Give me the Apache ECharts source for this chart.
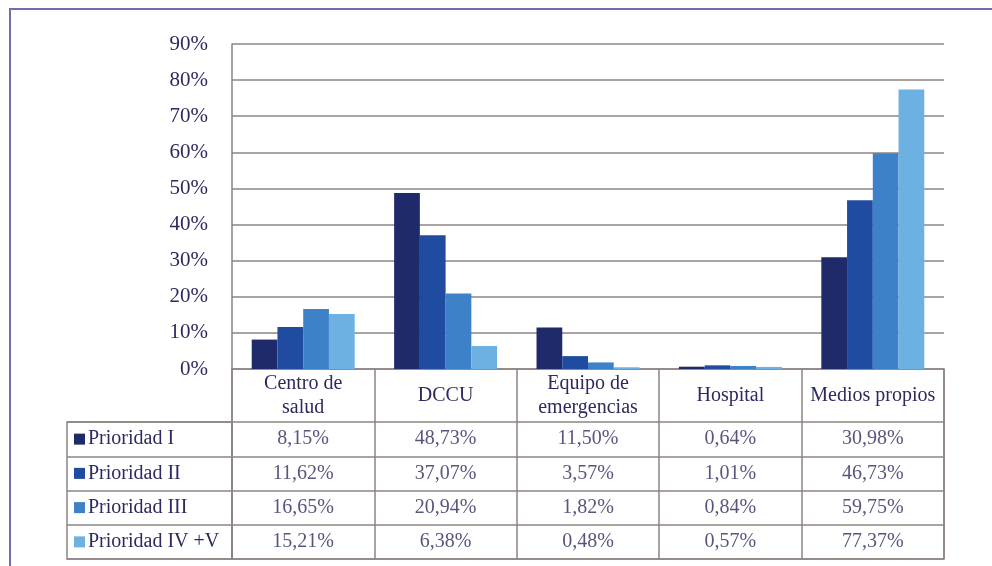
<!DOCTYPE html>
<html>
<head>
<meta charset="utf-8">
<script src="https://cdn.jsdelivr.net/npm/echarts@6/dist/echarts.min.js"></script>
<style>
html,body{margin:0;padding:0;background:#ffffff;}
#c{width:992px;height:566px;}
</style>
</head>
<body>
<div id="c"></div>
<script>
const categories = ['Centro de\nsalud', 'DCCU', 'Equipo de\nemergencias', 'Hospital', 'Medios propios'];
const seriesNames = ['Prioridad I', 'Prioridad II', 'Prioridad III', 'Prioridad IV +V'];
const prioridadI = [8.15, 48.73, 11.50, 0.64, 30.98];
const prioridadII = [11.62, 37.07, 3.57, 1.01, 46.73];
const prioridadIII = [16.65, 20.94, 1.82, 0.84, 59.75];
const prioridadIV = [15.21, 6.38, 0.48, 0.57, 77.37];
const yTicks = [0, 10, 20, 30, 40, 50, 60, 70, 80, 90];

const allSeries = [prioridadI, prioridadII, prioridadIII, prioridadIV];
const colors = ['#1f2a6b', '#1f4ba0', '#3d82c8', '#6db0e2'];
const textColor = '#2d2a5e';
const lineColor = '#8c8583';
const font = 'Liberation Serif';
const fs = 20;

const fmt = v => v.toFixed(2).replace('.', ',') + '%';

const cellData = [];
allSeries.forEach((arr, s) => arr.forEach((v, c) => cellData.push([c, s, v])));

const rich = {};
colors.forEach((col, i) => {
  rich['s' + i] = { width: 11, height: 11, backgroundColor: col };
});
rich.t = { color: textColor, fontFamily: font, fontSize: fs, padding: [0, 0, 0, 3] };

const chart = echarts.init(document.getElementById('c'), null, { renderer: 'canvas' });
chart.setOption({
  backgroundColor: '#ffffff',
  animation: false,
  graphic: [{
    type: 'rect',
    shape: { x: 10, y: 9, width: 1000, height: 600 },
    style: { fill: 'none', stroke: '#6f6fa9', lineWidth: 2 },
    silent: true
  }],
  grid: [
    { left: 232, right: 48, top: 44, bottom: 197 },
    { left: 232, right: 48, top: 369, bottom: 7, show: true, borderColor: lineColor, borderWidth: 1.5, backgroundColor: 'transparent' },
    { left: 232, right: 48, top: 422, bottom: 7 },
    { left: 67, width: 165, top: 422, bottom: 7, show: true, borderColor: lineColor, borderWidth: 1.5, backgroundColor: 'transparent' }
  ],
  xAxis: [
    {
      type: 'category', gridIndex: 0, data: categories,
      axisLine: { show: false }, axisTick: { show: false },
      axisLabel: { interval: 0, margin: 27, verticalAlign: 'middle', lineHeight: 24, color: textColor, fontFamily: font, fontSize: fs },
      splitLine: { show: false }
    },
    {
      type: 'category', gridIndex: 1, data: categories,
      axisLine: { show: false }, axisTick: { show: false }, axisLabel: { show: false },
      splitLine: { show: true, interval: 0, lineStyle: { color: lineColor, width: 1.5 } }
    },
    {
      type: 'category', gridIndex: 2, data: categories, show: false
    },
    {
      type: 'category', gridIndex: 3, data: [''], show: false
    }
  ],
  yAxis: [
    {
      type: 'value', gridIndex: 0, min: 0, max: 90, interval: 10,
      axisLine: { show: true, lineStyle: { color: lineColor, width: 1.5 } },
      axisTick: { show: false },
      axisLabel: { margin: 24, color: textColor, fontFamily: font, fontSize: 21, formatter: v => yTicks.includes(v) ? v + '%' : '' },
      splitLine: { show: true, lineStyle: { color: lineColor, width: 1.5 } }
    },
    {
      type: 'value', gridIndex: 1, show: false, min: 0, max: 1
    },
    {
      type: 'category', gridIndex: 2, data: seriesNames, inverse: true,
      axisLine: { show: false }, axisTick: { show: false }, axisLabel: { show: false },
      splitLine: { show: true, interval: 0, lineStyle: { color: lineColor, width: 1.5 } }
    },
    {
      type: 'category', gridIndex: 3, data: seriesNames, inverse: true,
      axisLine: { show: false }, axisTick: { show: false },
      axisLabel: {
        inside: true, margin: 7, align: 'left',
        formatter: (v, i) => '{s' + i + '|}{t|' + v + '}',
        rich: rich
      },
      splitLine: { show: true, interval: 0, lineStyle: { color: lineColor, width: 1.5 } }
    }
  ],
  series: allSeries.map((arr, i) => ({
    name: seriesNames[i], type: 'bar', xAxisIndex: 0, yAxisIndex: 0,
    data: arr, barGap: '0%', barCategoryGap: '27.7%',
    itemStyle: { color: colors[i] }
  })).concat([{
    type: 'scatter', xAxisIndex: 2, yAxisIndex: 2,
    data: cellData, symbolSize: 1, itemStyle: { color: 'rgba(0,0,0,0)' },
    label: { show: true, position: 'inside', color: textColor, fontFamily: font, fontSize: fs, formatter: p => fmt(p.value[2]) },
    silent: true
  }])
});
</script>
</body>
</html>
